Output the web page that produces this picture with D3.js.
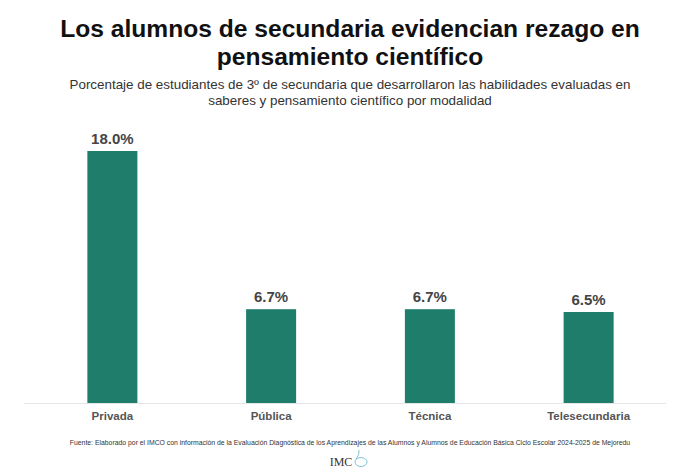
<!DOCTYPE html>
<html><head><meta charset="utf-8">
<script src="https://cdn.jsdelivr.net/npm/d3@7"></script>
<style>body{margin:0;background:#fff;font-family:"Liberation Sans",Arial,sans-serif}</style>
</head><body>
<svg id="c" width="700" height="470"></svg>
<script>
const categories = ["Privada", "Pública", "Técnica", "Telesecundaria"];
const values = [18.0, 6.7, 6.7, 6.5];
const titleLines = ["Los alumnos de secundaria evidencian rezago en", "pensamiento científico"];
const subtitleLines = ["Porcentaje de estudiantes de 3º de secundaria que desarrollaron las habilidades evaluadas en", "saberes y pensamiento científico por modalidad"];
const source = "Fuente: Elaborado por el IMCO con información de la Evaluación Diagnóstica de los Aprendizajes de las Alumnos y Alumnos de Educación Básica Ciclo Escolar 2024-2025 de Mejoredu";

const svg = d3.select("#c");
const W = 700;
const baseY = 403;
const x = d3.scaleBand().domain(categories).range([33, 668]).padding(0);
const y = d3.scaleLinear().domain([0, 18]).range([baseY, 151]);
const barW = 50;

svg.selectAll("text.title").data(titleLines).join("text")
  .attr("class","title").attr("x", W/2).attr("y",(d,i)=>37+i*28)
  .attr("text-anchor","middle").attr("font-size",24.6).attr("font-weight","bold").attr("fill","#111").text(d=>d);

svg.selectAll("text.sub").data(subtitleLines).join("text")
  .attr("class","sub").attr("x", W/2).attr("y",(d,i)=>89+i*16)
  .attr("text-anchor","middle").attr("font-size",13.4).attr("fill","#333").text(d=>d);

svg.append("line").attr("x1",24).attr("x2",666).attr("y1",baseY+0.5).attr("y2",baseY+0.5)
  .attr("stroke","#e6e6e6").attr("stroke-width",1);

const g = svg.append("g");
g.selectAll("rect").data(values).join("rect")
  .attr("x",(d,i)=>x(categories[i])+x.bandwidth()/2-barW/2)
  .attr("y",d=>y(d)).attr("width",barW).attr("height",d=>baseY-y(d))
  .attr("fill","#1e7d6b");

g.selectAll("text.val").data(values).join("text")
  .attr("class","val").attr("x",(d,i)=>x(categories[i])+x.bandwidth()/2)
  .attr("y",d=>y(d)-7).attr("text-anchor","middle").attr("font-size",15).attr("font-weight","bold")
  .attr("fill","#444").text(d=>d.toFixed(1)+"%");

const xAxis = d3.axisBottom(x).tickSize(0).tickPadding(0);
const ax = svg.append("g").attr("transform",`translate(0,${baseY})`).call(xAxis);
ax.select(".domain").remove();
ax.selectAll("text").attr("dy",0).attr("y",17).attr("font-size",11.5).attr("font-weight","bold")
  .attr("fill","#555").attr("font-family","Liberation Sans, Arial, sans-serif");

svg.append("text").attr("x",W/2).attr("y",445).attr("text-anchor","middle")
  .attr("font-size",6.85).attr("fill","#333").text(source);

// logo
const logo = svg.append("g");
logo.append("text").attr("x",341).attr("y",466).attr("text-anchor","middle")
  .attr("font-family","Liberation Serif, serif").attr("font-size",12).attr("fill","#333").text("IMC");
logo.append("ellipse").attr("cx",361).attr("cy",462).attr("rx",6).attr("ry",4.5)
  .attr("fill","none").attr("stroke","#7fc3d6").attr("stroke-width",1);
logo.append("path").attr("d","M356,459 q4,-5 3,-9").attr("fill","none").attr("stroke","#7fc3d6").attr("stroke-width",1);
</script>
</body></html>
